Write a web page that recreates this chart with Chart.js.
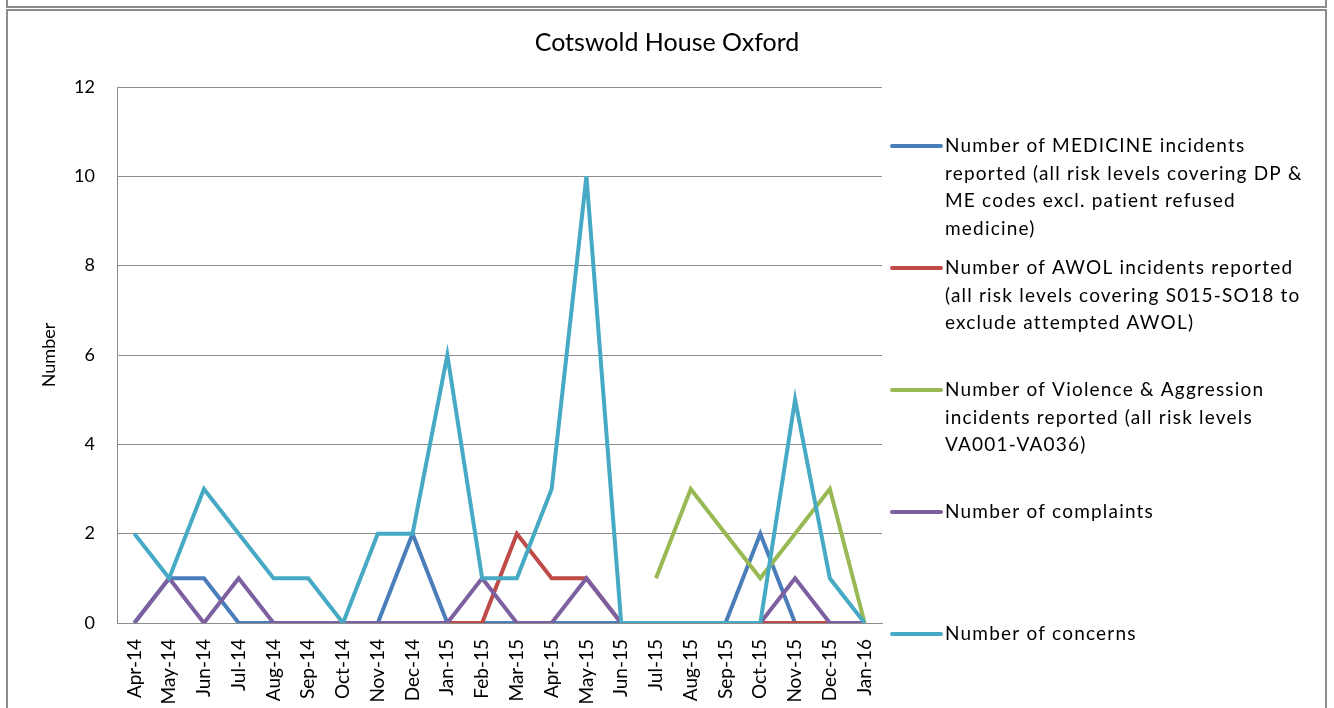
<!DOCTYPE html>
<html>
<head>
<meta charset="utf-8">
<script src="https://cdn.jsdelivr.net/npm/chart.js@4.4.1/dist/chart.umd.min.js"></script>
<style>
  html, body { margin: 0; padding: 0; background: #fff; overflow: hidden; width: 1334px; height: 708px; }
  #prev { position: absolute; left: 6px; top: -20px; width: 1317px; height: 24px; border: 2px solid #8c8c8c; }
  #frame { position: absolute; left: 6px; top: 9px; width: 1317px; height: 800px; border: 2px solid #8c8c8c; border-bottom: none; }
  #wrap { position: absolute; left: 0; top: 0; width: 1334px; height: 760px; }
</style>
</head>
<body>
<div id="prev"></div>
<div id="frame"></div>
<div id="wrap"><canvas id="c" width="1334" height="760"></canvas></div>
<script>
const months = ['Apr-14','May-14','Jun-14','Jul-14','Aug-14','Sep-14','Oct-14','Nov-14','Dec-14','Jan-15','Feb-15','Mar-15','Apr-15','May-15','Jun-15','Jul-15','Aug-15','Sep-15','Oct-15','Nov-15','Dec-15','Jan-16'];
const medicine   = [0,1,1,0,0,0,0,0,2,0,0,0,0,0,0,0,0,0,2,0,0,0];
const awol       = [null,null,null,null,null,null,null,null,null,0,0,2,1,1,0,0,0,0,0,0,0,null];
const violence   = [null,null,null,null,null,null,null,null,null,null,null,null,null,null,null,1,3,2,1,2,3,0];
const complaints = [0,1,0,1,0,0,0,0,0,0,1,0,0,1,0,0,0,0,0,1,0,0];
const concerns   = [2,1,3,2,1,1,0,2,2,6,1,1,3,10,0,0,0,0,0,5,1,0];
const yTicks = [0,2,4,6,8,10,12];
const seriesLabels = [
  ['Number of MEDICINE incidents','reported (all risk levels covering DP &','ME codes excl. patient refused','medicine)'],
  ['Number of AWOL incidents reported','(all risk levels covering S015-SO18 to','exclude attempted AWOL)'],
  ['Number of Violence & Aggression','incidents reported (all risk levels','VA001-VA036)'],
  ['Number of complaints'],
  ['Number of concerns']
];
const seriesValues = [medicine, awol, violence, complaints, concerns];
const colors = ['#4A7EBB','#BE4B48','#98B954','#7D60A0','#46AAC5'];

const FONT = 'Lato, "Open Sans", sans-serif';

const legendPlugin = {
  id: 'sideLegend',
  afterDraw(chart) {
    const ctx = chart.ctx;
    ctx.save();
    const startY = 146, gap = 122, lineH = 27.5;
    seriesLabels.forEach((lines, i) => {
      const y = startY + i * gap;
      ctx.strokeStyle = colors[i];
      ctx.lineWidth = 4;
      ctx.lineCap = 'round';
      ctx.beginPath();
      ctx.moveTo(892, y);
      ctx.lineTo(941, y);
      ctx.stroke();
      ctx.fillStyle = '#000';
      ctx.font = '19px ' + FONT;
      ctx.letterSpacing = '1.2px';
      ctx.textBaseline = 'middle';
      ctx.textAlign = 'left';
      lines.forEach((t, j) => ctx.fillText(t, 945, y + j * lineH));
    });
    ctx.restore();
  }
};

new Chart(document.getElementById('c'), {
  type: 'line',
  data: {
    labels: months,
    datasets: seriesValues.map((vals, i) => ({
      label: seriesLabels[i].join(' '),
      data: vals,
      borderColor: colors[i],
      backgroundColor: colors[i],
      borderWidth: 4,
      pointRadius: 0,
      tension: 0,
      fill: false,
      spanGaps: false,
      order: 4 - i,
      yAxisID: 'y'
    }))
  },
  options: {
    responsive: false,
    animation: false,
    layout: { padding: 0 },
    plugins: {
      legend: { display: false },
      tooltip: { enabled: false },
      title: {
        display: true,
        text: 'Cotswold House Oxford',
        color: '#000',
        font: { family: FONT, size: 25, weight: 'normal', lineHeight: 1.2 },
        padding: { top: 28, bottom: 29 }
      }
    },
    scales: {
      x: {
        offset: true,
        grid: { display: false, drawTicks: false },
        border: { display: true, color: '#8c8c8c', width: 1 },
        ticks: {
          autoSkip: false, maxRotation: 90, minRotation: 90,
          padding: 16, color: '#000',
          font: { family: FONT, size: 19 }
        },
        afterFit(s) { s.height = 137; }
      },
      y: {
        position: 'left',
        min: 0, max: 12,
        afterBuildTicks(s) { s.ticks = yTicks.map(v => ({ value: v })); },
        grid: { color: '#8c8c8c', lineWidth: 1, drawTicks: false },
        border: { display: true, color: '#8c8c8c', width: 1 },
        ticks: { padding: 22, color: '#000', font: { family: FONT, size: 18 } },
        title: {
          display: true, text: 'Number', color: '#000',
          font: { family: FONT, size: 18 },
          padding: { top: 38, bottom: 0 }
        },
        afterFit(s) { s.width = 117; }
      },
      legendSpace: {
        type: 'linear',
        position: 'right',
        display: true,
        grid: { display: false, drawTicks: false },
        border: { display: false },
        ticks: { display: false },
        afterFit(s) { s.width = 452; }
      }
    }
  },
  plugins: [legendPlugin]
});
</script>
</body>
</html>
